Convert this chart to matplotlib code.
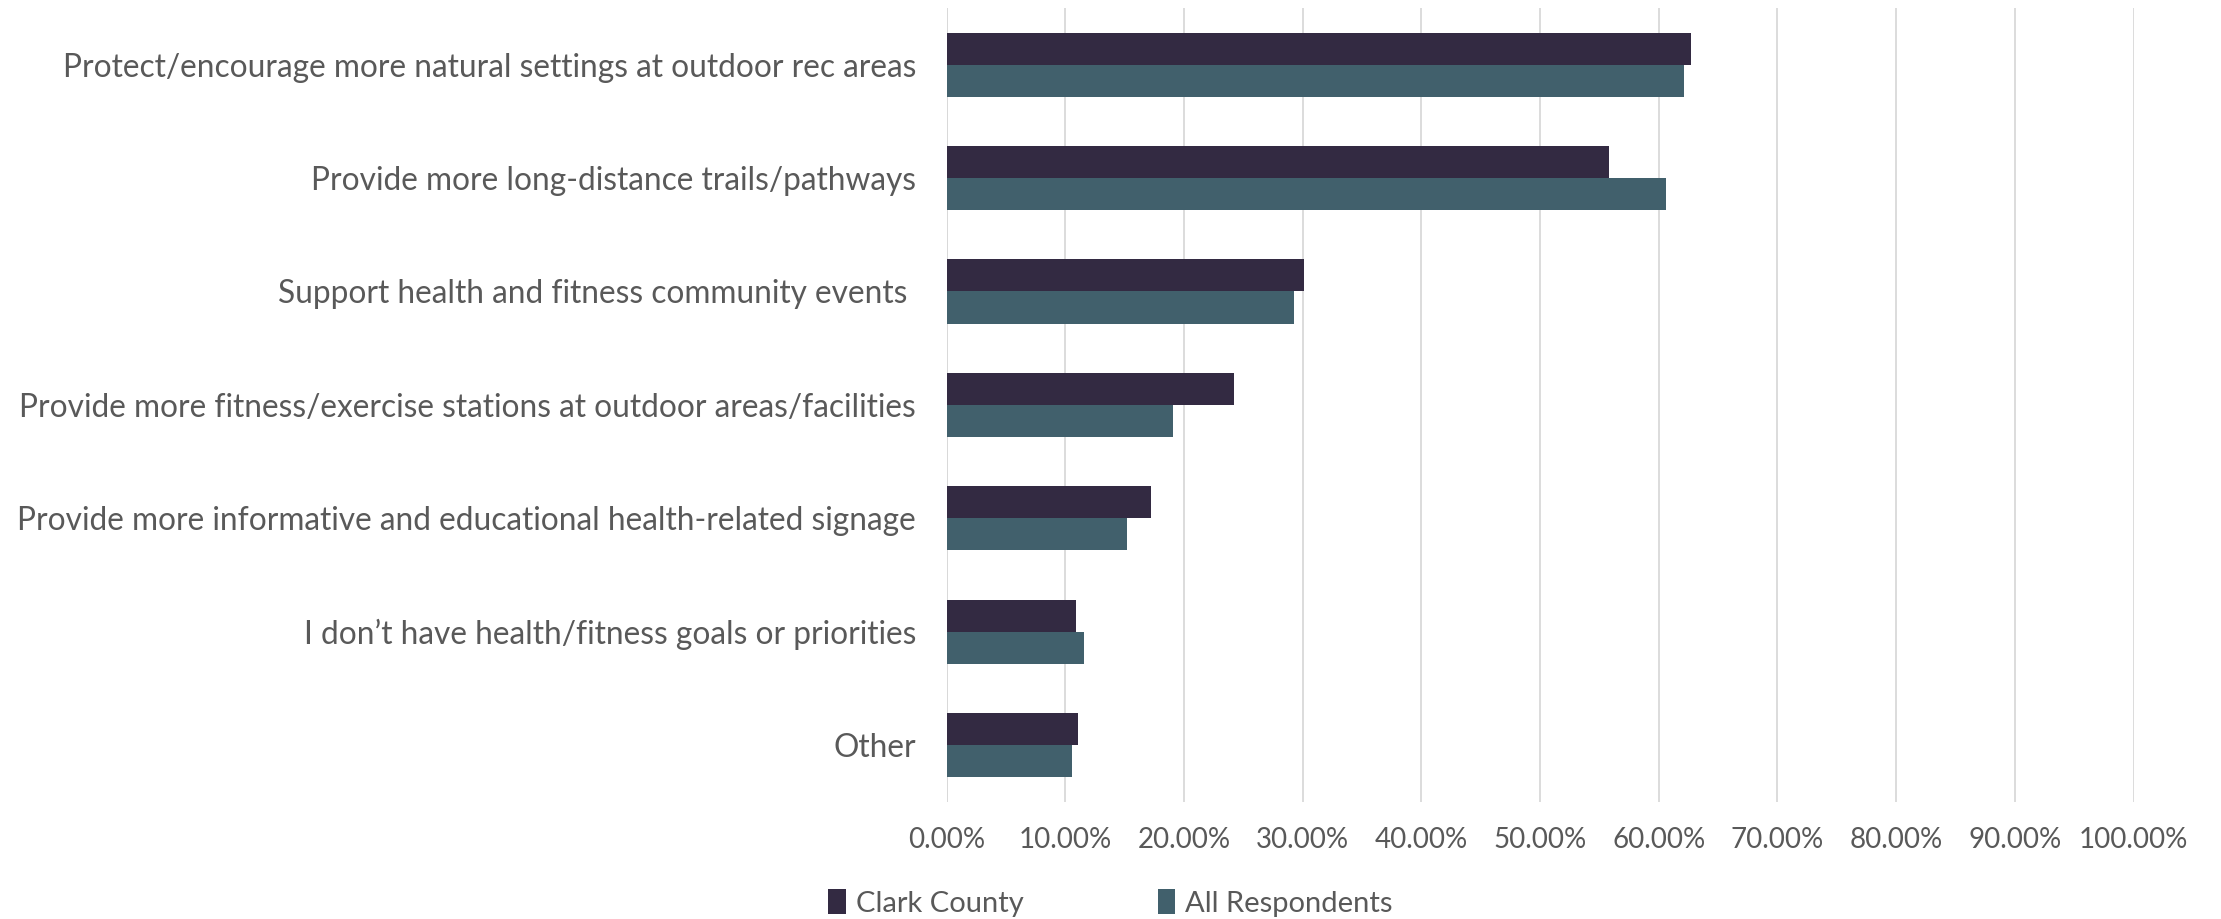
import matplotlib.pyplot as plt
import numpy as np
from matplotlib.ticker import FuncFormatter

plt.rcParams['font.family'] = ['Lato', 'DejaVu Sans']

#survey answers, top to bottom as in the chart
categories = [
    "Protect/encourage more natural settings at outdoor rec areas",
    "Provide more long-distance trails/pathways",
    "Support health and fitness community events ",
    "Provide more fitness/exercise stations at outdoor areas/facilities",
    "Provide more informative and educational health-related signage",
    "I don\u2019t have health/fitness goals or priorities",
    "Other",
]
clark = [62.7, 55.8, 30.1, 24.2, 17.2, 10.9, 11.1]
all_resp = [62.1, 60.6, 29.3, 19.1, 15.2, 11.6, 10.6]
series_names = ["Clark County", "All Respondents"]
xticks = [0, 10, 20, 30, 40, 50, 60, 70, 80, 90, 100]

c_clark = "#332A42"
c_all = "#41606C"
txt = "#595959"

fig = plt.figure(figsize=(22.21, 9.19), dpi=100)
ax = fig.add_axes([946.5/2221, 1-801.7/919, (2133.5-946.5)/2221, (801.7-8)/919])

y = np.arange(len(categories))
h = 0.283
ax.barh(y - h/2, clark, height=h, color=c_clark, label=series_names[0], zorder=3)
ax.barh(y + h/2, all_resp, height=h, color=c_all, label=series_names[1], zorder=3)

ax.set_ylim(len(categories) - 0.5, -0.5)
ax.set_xlim(0, 100)
ax.set_yticks(y)
ax.set_yticklabels(categories)
ax.set_xticks(xticks)
ax.xaxis.set_major_formatter(FuncFormatter(lambda v, p: "%.2f%%" % v))

ax.grid(axis='x', color="#D9D9D9", linewidth=1.3, zorder=0)
ax.axvline(0, color="#D9D9D9", linewidth=1.3, zorder=1)
for s in ax.spines.values():
    s.set_visible(False)
ax.tick_params(axis='y', length=0, pad=22, labelsize=22.8, labelcolor=txt)
ax.tick_params(axis='x', length=0, pad=18, labelsize=20, labelcolor=txt)

fig.legend(loc='center', bbox_to_anchor=(0.5, 0.0174), ncol=2, frameon=False,
           fontsize=21, labelcolor=txt, handlelength=0.6, handleheight=0.9,
           handletextpad=0.35, columnspacing=4.6)

fig.savefig("out.png", dpi=100)
